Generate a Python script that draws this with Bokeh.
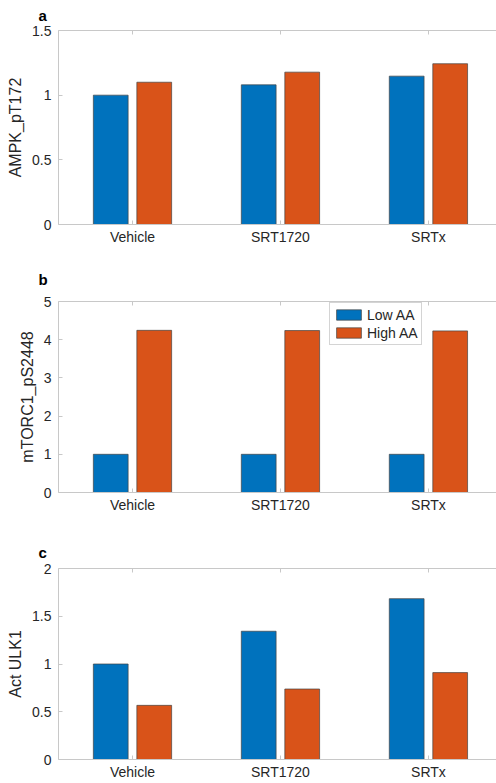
from bokeh.plotting import figure
from bokeh.models import (ColumnDataSource, FixedTicker, LinearAxis, Range1d,
                          Legend, LegendItem, Title)
from bokeh.layouts import column
from bokeh.transform import dodge
from bokeh.embed import file_html
from bokeh.resources import INLINE

categories = ["Vehicle", "SRT1720", "SRTx"]
series_names = ["Low AA", "High AA"]

ampk_low = [1.00, 1.08, 1.147]
ampk_high = [1.10, 1.178, 1.243]

mtorc_low = [1.00, 1.00, 1.00]
mtorc_high = [4.245, 4.24, 4.23]

ulk_low = [1.00, 1.343, 1.684]
ulk_high = [0.567, 0.738, 0.91]

y_labels = ["AMPK_pT172", "mTORC1_pS2448", "Act ULK1"]
panel_tags = ["a", "b", "c"]
y_maxes = [1.5, 5, 2]
y_ticks = [[0, 0.5, 1, 1.5], [0, 1, 2, 3, 4, 5], [0, 0.5, 1, 1.5, 2]]

BLUE = "#0072BD"
ORANGE = "#D95319"
AXIS = "#c8c8c8"
TXT = "#262626"
FONT = "Liberation Sans"

xpos = list(range(1, len(categories) + 1))
tick_labels = {i: c for i, c in zip(xpos, categories)}


def fmt_overrides(ticks):
    return {t: ("%g" % t) for t in ticks}


def make_panel(low, high, ylab, tag, ymax, yt, height, btop, bbottom, tag_standoff,
               legend=False):
    src = ColumnDataSource(dict(x=xpos, low=low, high=high))
    p = figure(width=496, height=height, output_backend="svg", toolbar_location=None,
               x_range=Range1d(0.5, 3.46), y_range=Range1d(0, ymax),
               min_border_left=58, min_border_right=0,
               min_border_top=btop, min_border_bottom=bbottom)
    p.outline_line_color = None
    p.grid.visible = False
    p.background_fill_color = "white"
    p.border_fill_color = "white"

    r1 = p.vbar(x=dodge("x", -0.147), top="low", width=0.235, source=src,
                fill_color=BLUE, line_color="#444444", line_width=0.7)
    r2 = p.vbar(x=dodge("x", 0.147), top="high", width=0.235, source=src,
                fill_color=ORANGE, line_color="#444444", line_width=0.7)

    xa = p.xaxis[0]
    xa.ticker = FixedTicker(ticks=xpos)
    xa.major_label_overrides = tick_labels
    xa.axis_line_color = AXIS
    xa.major_tick_line_color = AXIS
    xa.major_tick_in = 4
    xa.major_tick_out = 0
    xa.minor_tick_line_color = None
    xa.major_label_text_font = FONT
    xa.major_label_text_font_size = "14px"
    xa.major_label_text_color = TXT
    xa.major_label_standoff = 4

    ya = p.yaxis[0]
    ya.ticker = FixedTicker(ticks=yt)
    ya.major_label_overrides = fmt_overrides(yt)
    ya.axis_line_color = AXIS
    ya.major_tick_line_color = AXIS
    ya.major_tick_in = 4
    ya.major_tick_out = 0
    ya.minor_tick_line_color = None
    ya.major_label_text_font = FONT
    ya.major_label_text_font_size = "14px"
    ya.major_label_text_color = TXT
    ya.major_label_standoff = 7
    ya.axis_label = ylab
    ya.axis_label_text_font = FONT
    ya.axis_label_text_font_size = "16px"
    ya.axis_label_text_font_style = "normal"
    ya.axis_label_text_color = TXT
    ya.axis_label_standoff = 5

    top_axis = LinearAxis(ticker=FixedTicker(ticks=xpos), axis_line_color=AXIS,
                          major_tick_line_color=AXIS, major_tick_in=4, major_tick_out=0,
                          minor_tick_line_color=None, major_label_text_font_size="1px",
                          major_label_text_color=None, major_label_standoff=0)
    p.add_layout(top_axis, "above")

    t = Title(text=tag, align="left", offset=-20, vertical_align="top",
              standoff=tag_standoff, text_font=FONT, text_font_size="15px",
              text_font_style="bold", text_color="black")
    p.add_layout(t, "above")

    if legend:
        leg = Legend(items=[LegendItem(label=series_names[0], renderers=[r1]),
                            LegendItem(label=series_names[1], renderers=[r2])],
                     location=(271, 147))
        leg.glyph_width = 31
        leg.glyph_height = 13
        leg.label_text_font = FONT
        leg.label_text_font_size = "14px"
        leg.label_text_color = TXT
        leg.label_standoff = 3
        leg.label_height = 17
        leg.spacing = 1
        leg.padding = 3
        leg.margin = 0
        leg.border_line_color = "#aaaaaa"
        leg.border_line_width = 1
        p.add_layout(leg, "center")
    return p


pa = make_panel(ampk_low, ampk_high, y_labels[0], panel_tags[0], y_maxes[0], y_ticks[0],
                258, 30, 34, 10)
pb = make_panel(mtorc_low, mtorc_high, y_labels[1], panel_tags[1], y_maxes[1], y_ticks[1],
                262, 42, 28, 24, legend=True)
pc = make_panel(ulk_low, ulk_high, y_labels[2], panel_tags[2], y_maxes[2], y_ticks[2],
                262, 48, 20, 12)

layout = column(pa, pb, pc, spacing=0)
open("out.html", "w").write(file_html(layout, INLINE))
